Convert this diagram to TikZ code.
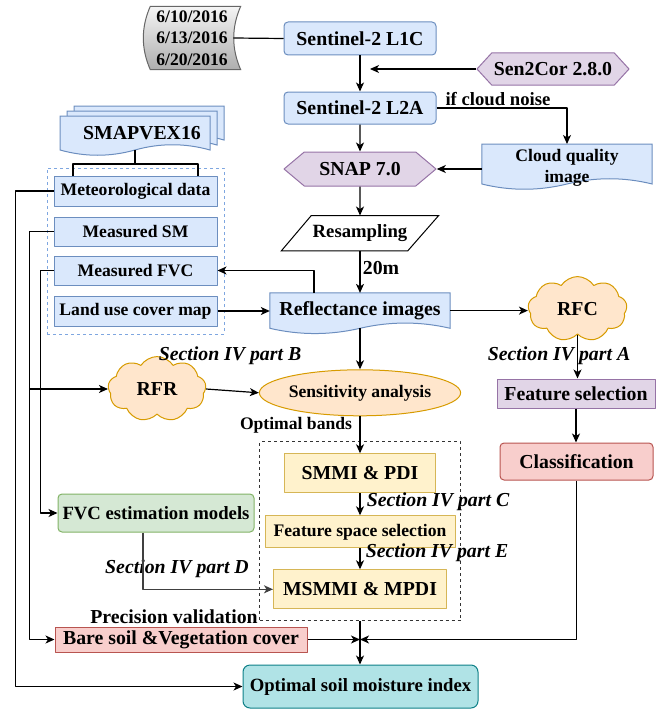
\documentclass[tikz,border=0pt]{standalone}
\usepackage{fontspec}
\setmainfont{Liberation Serif}
\usetikzlibrary{arrows.meta,positioning,calc,shapes.geometric,shapes.symbols,fit,backgrounds}

\definecolor{blueF}{HTML}{DAE8FC}\definecolor{blueD}{HTML}{6C8EBF}
\definecolor{purpF}{HTML}{E1D5E7}\definecolor{purpD}{HTML}{9673A6}
\definecolor{orgF}{HTML}{FFE6CC}\definecolor{orgD}{HTML}{D79B00}
\definecolor{yelF}{HTML}{FFF2CC}\definecolor{yelD}{HTML}{D6B656}
\definecolor{redF}{HTML}{F8CECC}\definecolor{redD}{HTML}{B85450}
\definecolor{grnF}{HTML}{D5E8D4}\definecolor{grnD}{HTML}{82B366}
\definecolor{tealF}{HTML}{B0E3E6}\definecolor{tealD}{HTML}{0E8088}
\definecolor{grayD}{HTML}{666666}\definecolor{dashB}{HTML}{7EA6E0}

\newcommand{\fbig}{\fontsize{19.8pt}{22pt}\selectfont\bfseries}
\newcommand{\fmid}{\fontsize{18.7pt}{21pt}\selectfont\bfseries}
\newcommand{\fsml}{\fontsize{17.6pt}{21.5pt}\selectfont\bfseries}

% document outline with wavy bottom: style, top-left, bottom-right
\newcommand{\wavebox}[3]{%
  \path[#1] let \p1=(#2), \p2=(#3), \n1={\x2-\x1} in
    (\x1,\y2) -- (\x1,\y1) -- (\x2,\y1) -- (\x2,\y2)
    .. controls ({\x2-\n1/6},{\y2+7pt}) and ({\x2-\n1/3},{\y2+7pt}) .. ({\x1+\n1/2},\y2)
    .. controls ({\x1+\n1/3},{\y2-7pt}) and ({\x1+\n1/6},{\y2-7pt}) .. cycle;}

\begin{document}
\begin{tikzpicture}[x=1pt, y=-1pt, line join=round,
  ln/.style={line width=1.2pt, black},
  arr/.style={ln, -{Stealth[length=9pt,width=8pt,inset=2.5pt]}},
  arrg/.style={arr, black!75},
  wh/.style 2 args={minimum width=#1pt, minimum height=#2pt},
  txt/.style={inner sep=1pt, font=\fbig},
  sect/.style={inner sep=1pt, font=\fbig\itshape},
  sbox/.style 2 args={draw=#1, fill=#2, line width=1pt, inner sep=1pt, font=\fbig},
  rbox/.style 2 args={sbox={#1}{#2}, rounded corners=4pt},
  hexa/.style={signal, signal to=west and east, draw=purpD, fill=purpF,
    line width=1pt, inner sep=1pt, font=\fbig},
  puff/.style={cloud, cloud puffs=9, cloud puff arc=115, draw=orgD, fill=orgF,
    line width=1pt, inner sep=0pt, font=\fbig},
  docb/.style={draw=blueD, fill=blueF, line width=1pt},
]
\useasboundingbox (0,0) rectangle (663,709);

%% Sentinel-2 processing chain
\node[rbox={blueD}{blueF}, wh={152}{33}] (l1c) at (360,38.5) {Sentinel-2 L1C};
\node[rbox={blueD}{blueF}, wh={152}{32}, below=36pt of l1c] (l2a) {Sentinel-2 L2A};
\node[hexa, wh={152}{34}, signal pointer angle=80, below=27pt of l2a] (snap) {SNAP 7.0};
\node[txt, font=\fmid, wh={157}{35}, below=29pt of snap] (resamp) {Resampling};
\node[txt, wh={180}{35}, below=42pt of resamp] (refl) {Reflectance images};
\node[ellipse, draw=orgD, fill=orgF, line width=1pt, inner sep=0pt, font=\fsml,
  wh={161}{46}, below=41pt of refl] (sens) {Sensitivity analysis};
\node[sbox={yelD}{yelF}, wh={151}{39}, below=37pt of sens] (smmi) {SMMI \& PDI};
\node[sbox={yelD}{yelF}, font=\fsml, wh={190}{32}, below=22pt of smmi] (fsp) {Feature space selection};
\node[sbox={yelD}{yelF}, wh={173}{39}, below=21pt of fsp] (msmmi) {MSMMI \& MPDI};
\node[rbox={tealD}{tealF}, rounded corners=7pt, font=\fmid, wh={235}{43}] (opt) at (360.5,686.5) {Optimal soil moisture index};

%% Right branch
\node[hexa, wh={152}{32}, signal pointer angle=95] (s2c) at (553,69) {Sen2Cor 2.8.0};
\node[txt, font=\fsml, align=center, wh={170}{38}] (cq) at (567,168) {Cloud quality\\image};
\node[puff, wh={99}{52}] (rfc) at (577.5,309) {RFC};
\node[sbox={purpD}{purpF}, wh={158}{29}] (fsel) at (576,393.5) {Feature selection};
\node[rbox={redD}{redF}, wh={153}{37}] (cls) at (576.5,461.5) {Classification};

%% Field data
\node[txt, font=\fsml, align=center, wh={97}{63}] (dates) at (192,38) {6/10/2016\\6/13/2016\\6/20/2016};
\node[txt] (smap) at (142,133) {SMAPVEX16};
\node[sbox={blueD}{blueF}, font=\fsml, wh={163}{30}] (met) at (135.5,191) {Meteorological data};
\node[sbox={blueD}{blueF}, font=\fsml, wh={163}{29}, below=10pt of met] (msm) {Measured SM};
\node[sbox={blueD}{blueF}, font=\fsml, wh={163}{29}, below=9pt of msm] (mfvc) {Measured FVC};
\node[sbox={blueD}{blueF}, font=\fsml, wh={163}{30}, below=10pt of mfvc] (land) {Land use cover map};
\node[puff, wh={98}{54}] (rfr) at (157,389) {RFR};
\node[rbox={grnD}{grnF}, font=\fmid, wh={196}{38}] (fvcmod) at (156,513) {FVC estimation models};
\node[sbox={redD}{redF}, wh={252}{25}] (bare) at (181,639.5) {Bare soil \&Vegetation cover};

%% Groups
\node[draw=dashB, dashed, line width=1pt, fit=(met)(land), inner xsep=6.5pt, inner ysep=7.5pt] (field) {};
\node[draw=black!80, dashed, line width=1pt, fit=(smmi)(fsp)(msmmi), inner xsep=5pt, inner ysep=11.5pt] (idx) {};

%% Outlines drawn behind the texts
\begin{scope}[on background layer]
  \draw[draw=grayD, line width=1pt, top color=white!96!black, bottom color=black!32]
    ($(dates.north west)+(7,0)$) -- (dates.north east)
    .. controls ($(dates.north east)+(-9.3,21)$) and ($(dates.south east)+(-9.3,-21)$) .. (dates.south east)
    -- ($(dates.south west)+(7,0)$)
    .. controls ($(dates.south west)+(-2.3,-21)$) and ($(dates.north west)+(-2.3,21)$) .. cycle;
  \draw[line width=1pt, fill=white] (resamp.south west) -- ($(resamp.north west)+(30,0)$)
    -- (resamp.north east) -- ($(resamp.south east)+(-31,0)$) -- cycle;
  \wavebox{docb}{refl.north west}{refl.south east}
  \wavebox{docb}{$(cq.north west)+(0,-4)$}{$(cq.south east)+(0,-4)$}
  \wavebox{docb}{74,106}{224,140}
  \wavebox{docb}{67,111}{217,145}
  \wavebox{docb}{60,116}{210,150}
\end{scope}

%% Labels
\node[txt, font=\fmid] (cnoise) at (498,99) {if cloud noise};
\node[txt] (res) at (381,268) {20m};
\node[sect] (secA) at (559,356) {Section IV part A};
\node[sect] (secB) at (230,356) {Section IV part B};
\node[txt, font=\fsml] (optb) at (296,425) {Optimal bands};
\node[sect] (secC) at (438,502) {Section IV part C};
\node[sect] (secE) at (437,553) {Section IV part E};
\node[sect] (secD) at (177,569) {Section IV part D};
\node[txt] (prec) at (174,617) {Precision validation};

%% Connectors
\coordinate (s2cend) at (370,69);
\coordinate (smb) at (135,150);
\coordinate (smL) at (73,164);
\coordinate (smR) at (198,164);
\coordinate (jn) at (idx.south |- bare.east);

\draw[ln] ([xshift=-7pt]dates.east) -- (l1c.west);
\draw[arr] (l1c) -- (l2a);
\draw[arr] (s2c.west) -- (s2cend);
\draw[arr] (l2a) -- (snap);
\draw[arr] (l2a.east) -| ([yshift=4pt]cq.north);
\draw[arr] (cq.west |- snap.east) -- (snap.east);
\draw[arr] (snap) -- (resamp);
\draw[arr] (resamp) -- (refl);
\draw[arr] (land.east) -- (refl.west |- land.east);
\draw[arr] ([xshift=-46pt]refl.north) |- (mfvc.east);
\draw[arr] (refl.east) -- (refl.east -| rfc.west);
\draw[arr] (rfc.south) -- (rfc.south |- fsel.north);
\draw[arr] (fsel.south) -- (fsel.south |- cls.north);
\draw[arr] (refl.south) -- (sens.north);
\draw[arr] (rfr.east) -- (sens.west);
\draw[arr] (sens.south) -- (smmi.north);
\draw[arr] (smmi) -- (fsp);
\draw[arr] (fsp) -- (msmmi);
\draw[arrg] ([xshift=-13pt]fvcmod.south) |- (msmmi.west);
\draw[ln] (idx.south) -- (jn);
\draw[arr] (jn) -- (jn |- opt.north);
\draw[arr] (bare.east) -- (jn);
\draw[arr] (cls.south) |- (jn);

%% Field data lines
\draw[ln] (smb) -- (smb |- smL);
\draw[ln] (smL |- met.north) -- (smL) -- (smR) -- (smR |- met.north);
\draw[arr] (met.west) -- ++(-38,0) |- (opt.west);
\draw[arr] (msm.west) -- ++(-24,0) coordinate (smx) |- (bare.west);
\draw[arr] (smx |- rfr.west) -- (rfr.west);
\draw[arr] (mfvc.west) -- ++(-13,0) |- (fvcmod.west);

\end{tikzpicture}
\end{document}
